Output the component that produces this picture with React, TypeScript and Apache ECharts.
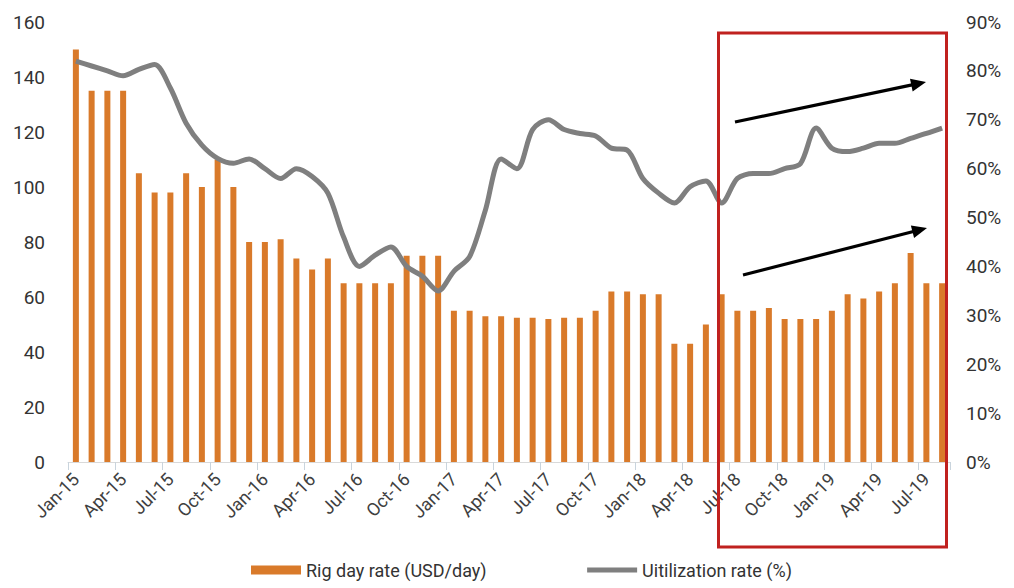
import React, { useEffect, useRef } from "react";
import * as echarts from "echarts";

// Monthly categories, Jan-15 .. Aug-19
const months: string[] = [
  "Jan-15", "Feb-15", "Mar-15", "Apr-15", "May-15", "Jun-15", "Jul-15", "Aug-15", "Sep-15", "Oct-15", "Nov-15", "Dec-15",
  "Jan-16", "Feb-16", "Mar-16", "Apr-16", "May-16", "Jun-16", "Jul-16", "Aug-16", "Sep-16", "Oct-16", "Nov-16", "Dec-16",
  "Jan-17", "Feb-17", "Mar-17", "Apr-17", "May-17", "Jun-17", "Jul-17", "Aug-17", "Sep-17", "Oct-17", "Nov-17", "Dec-17",
  "Jan-18", "Feb-18", "Mar-18", "Apr-18", "May-18", "Jun-18", "Jul-18", "Aug-18", "Sep-18", "Oct-18", "Nov-18", "Dec-18",
  "Jan-19", "Feb-19", "Mar-19", "Apr-19", "May-19", "Jun-19", "Jul-19", "Aug-19",
];

// Rig day rate, thousand USD/day (left axis)
const rigDayRate: number[] = [
  150, 135, 135, 135, 105, 98, 98, 105, 100, 110, 100, 80,
  80, 81, 74, 70, 74, 65, 65, 65, 65, 75, 75, 75,
  55, 55, 53, 53, 52.5, 52.5, 52, 52.5, 52.5, 55, 62, 62,
  61, 61, 43, 43, 50, 61, 55, 55, 56, 52, 52, 52,
  55, 61, 59.5, 62, 65, 76, 65, 65,
];

// Utilization rate, % (right axis)
const utilization: number[] = [
  82, 81, 80, 79, 80.3, 81.3, 76.5, 69.3, 64.8, 62.1, 61.1, 62,
  60, 58, 60, 58.4, 55, 46, 40, 42.3, 44, 40, 38, 35,
  39, 42, 51.5, 62, 60, 68, 70, 68, 67.2, 66.7, 64.2, 63.8,
  58, 55, 53, 56.3, 57.5, 53, 58, 59, 59, 60, 61, 68.3,
  64.2, 63.5, 64.2, 65.2, 65.2, 66.2, 67.2, 68.3,
];

const leftTicks = { min: 0, max: 160, interval: 20 };
const rightTicks = { min: 0, max: 90, interval: 10 };

const FONT = "Roboto, 'Noto Sans', sans-serif";
const BAR_COLOR = "#D97A2A";
const LINE_COLOR = "#7F7F7F";

// Arrow annotation: shaft plus a filled head at the end point
function arrow(x1: number, y1: number, x2: number, y2: number) {
  const dx = x2 - x1;
  const dy = y2 - y1;
  const len = Math.sqrt(dx * dx + dy * dy);
  const ux = dx / len;
  const uy = dy / len;
  const headLen = 15;
  const headHalf = 6.5;
  const bx = x2 - ux * headLen;
  const by = y2 - uy * headLen;
  return [
    {
      type: "line",
      shape: { x1, y1, x2: bx + ux * 2, y2: by + uy * 2 },
      style: { stroke: "#000", lineWidth: 3.2 },
      z: 100,
    },
    {
      type: "polygon",
      shape: {
        points: [
          [x2, y2],
          [bx - uy * headHalf, by + ux * headHalf],
          [bx + uy * headHalf, by - ux * headHalf],
        ],
      },
      style: { fill: "#000" },
      z: 100,
    },
  ];
}

export default function App() {
  const ref = useRef<HTMLDivElement>(null);

  useEffect(() => {
    if (!ref.current) return;
    const chart = echarts.init(ref.current, null, { renderer: "svg" });

    const option: any = {
      animation: false,
      textStyle: { fontFamily: FONT },
      grid: { left: 68, right: 64, top: 22, bottom: 126, containLabel: false },
      legend: {
        top: 561,
        left: 251,
        padding: 0,
        itemWidth: 50,
        itemHeight: 9,
        itemGap: 98,
        textStyle: { fontFamily: FONT, fontSize: 18, color: "#333" },
        data: [
          { name: "Rig day rate (USD/day)", icon: "rect" },
          {
            name: "Uitilization rate (%)",
            itemStyle: { opacity: 0 },
            lineStyle: { width: 5, color: LINE_COLOR },
          },
        ],
      },
      xAxis: {
        type: "category",
        data: months,
        boundaryGap: true,
        axisLine: { lineStyle: { color: "#d9d9d9", width: 1 } },
        axisTick: { show: true, interval: 2, length: 8, lineStyle: { color: "#c9d4dd" } },
        axisLabel: {
          interval: 2,
          rotate: 45,
          fontSize: 18,
          color: "#404040",
          margin: 14,
          fontFamily: FONT,
        },
      },
      yAxis: [
        {
          type: "value",
          ...leftTicks,
          splitLine: { show: false },
          axisLine: { show: false },
          axisTick: { show: false },
          axisLabel: { fontSize: 19, color: "#333", margin: 23, fontFamily: FONT },
        },
        {
          type: "value",
          ...rightTicks,
          position: "right",
          splitLine: { show: false },
          axisLine: { show: false },
          axisTick: { show: false },
          axisLabel: {
            formatter: "{value}%",
            fontSize: 19,
            color: "#333",
            margin: 16,
            fontFamily: FONT,
          },
        },
      ],
      series: [
        {
          name: "Rig day rate (USD/day)",
          type: "bar",
          data: rigDayRate,
          barWidth: 6,
          itemStyle: { color: BAR_COLOR },
          z: 2,
        },
        {
          name: "Uitilization rate (%)",
          type: "line",
          yAxisIndex: 1,
          data: utilization,
          smooth: 0.3,
          symbol: "none",
          lineStyle: { color: LINE_COLOR, width: 5 },
          itemStyle: { color: LINE_COLOR },
          z: 3,
        },
      ],
      graphic: [
        {
          type: "rect",
          shape: { x: 718.5, y: 33, width: 228, height: 514 },
          style: { fill: "none", stroke: "#C0211F", lineWidth: 3 },
          z: 100,
        },
        ...arrow(735, 122, 926, 82),
        ...arrow(743, 275, 927, 228),
      ],
    };

    chart.setOption(option);
    return () => chart.dispose();
  }, []);

  return (
    <div
      ref={ref}
      style={{ position: "fixed", left: 0, top: 0, width: 1014, height: 588, background: "#fff" }}
    />
  );
}
